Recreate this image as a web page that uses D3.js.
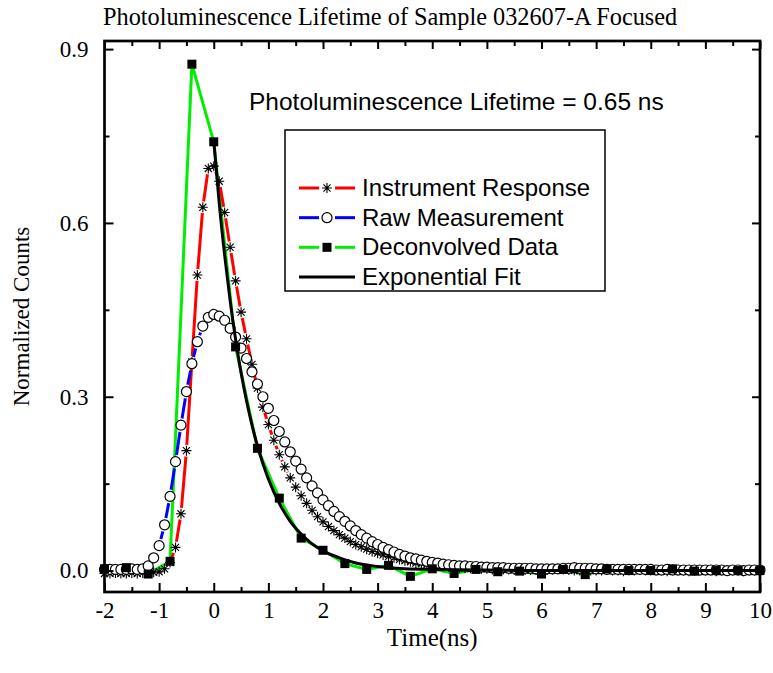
<!DOCTYPE html>
<html>
<head>
<meta charset="utf-8">
<script src="https://cdn.jsdelivr.net/npm/d3@7"></script>
<style>
body { margin: 0; background: #fff; }
</style>
</head>
<body>
<script>
// time grid of the two measured traces (0.1 ns step)
var timeStart = -2, timeStep = 0.1;
var traceTime = d3.range(0, 121).map(function(i){ return +(timeStart + i * timeStep).toFixed(1); });

var instrumentResponse = [
  -0.005, -0.005, -0.004, -0.005, -0.005, -0.004, -0.005, -0.004, -0.004, -0.003,
  -0.002, 0.003, 0.014, 0.040, 0.098, 0.207, 0.360, 0.510, 0.627, 0.694,
  0.698, 0.672, 0.618, 0.558, 0.500, 0.446, 0.400, 0.356, 0.315, 0.282,
  0.252, 0.225, 0.200, 0.179, 0.160, 0.144, 0.129, 0.116, 0.104, 0.093,
  0.084, 0.076, 0.069, 0.062, 0.056, 0.050, 0.045, 0.041, 0.037, 0.033,
  0.030, 0.027, 0.024, 0.022, 0.019, 0.017, 0.015, 0.013, 0.012, 0.010,
  0.009, 0.008, 0.007, 0.006, 0.005, 0.005, 0.004, 0.004, 0.003, 0.003,
  0.003, 0.002, 0.002, 0.002, 0.002, 0.001, 0.002, 0.001, 0.001, 0.001,
  0.001, 0.001, 0.002, 0.003, 0.002, 0.001, 0.000, 0.000, 0.001, 0.000,
  0.000, 0.000, 0.001, 0.000, 0.000, -0.001, 0.000, 0.000, 0.001, 0.000,
  0.000, 0.000, 0.000, -0.001, 0.000, 0.000, 0.000, -0.001, 0.000, 0.000,
  0.000, 0.000, -0.001, 0.000, 0.000, 0.000, 0.000, -0.001, 0.000, 0.000,
  0.000
];

var rawMeasurement = [
  0.002, 0.002, 0.002, 0.002, 0.002, 0.003, 0.002, 0.003, 0.008, 0.022,
  0.043, 0.079, 0.128, 0.188, 0.251, 0.309, 0.357, 0.395, 0.422, 0.437,
  0.442, 0.439, 0.432, 0.418, 0.403, 0.384, 0.366, 0.343, 0.322, 0.300,
  0.280, 0.259, 0.240, 0.222, 0.205, 0.189, 0.175, 0.160, 0.146, 0.134,
  0.122, 0.112, 0.102, 0.093, 0.085, 0.077, 0.069, 0.062, 0.056, 0.050,
  0.045, 0.040, 0.036, 0.032, 0.028, 0.025, 0.022, 0.020, 0.018, 0.016,
  0.014, 0.013, 0.011, 0.010, 0.009, 0.008, 0.008, 0.007, 0.007, 0.006,
  0.006, 0.005, 0.005, 0.005, 0.004, 0.004, 0.004, 0.004, 0.004, 0.003,
  0.003, 0.003, 0.003, 0.003, 0.004, 0.004, 0.005, 0.004, 0.004, 0.004,
  0.003, 0.003, 0.002, 0.002, 0.002, 0.002, 0.002, 0.002, 0.002, 0.002,
  0.002, 0.001, 0.001, 0.002, 0.001, 0.001, 0.001, 0.001, 0.001, 0.001,
  0.001, 0.001, 0.001, 0.001, 0.000, 0.001, 0.001, 0.000, 0.001, 0.001,
  0.001
];

// deconvolved data, 0.4 ns step
var deconvTime = [-2.0, -1.6, -1.2, -0.8, -0.4, 0.0, 0.4, 0.8, 1.2, 1.6, 2.0, 2.4, 2.8, 3.2, 3.6, 4.0,
  4.4, 4.8, 5.2, 5.6, 6.0, 6.4, 6.8, 7.2, 7.6, 8.0, 8.4, 8.8, 9.2, 9.6, 10.0];
var deconvolved = [0.003, 0.005, -0.006, 0.016, 0.874, 0.740, 0.386, 0.211, 0.125, 0.056, 0.035, 0.012, 0.002, 0.009, -0.010, 0.003,
  -0.005, 0.002, -0.002, -0.001, -0.006, 0.002, -0.007, 0.003, 0.000, 0.000, 0.003, -0.001, 0.000, 0.000, 0.000];

// exponential fit curve
var fitTime = [0, 0.1, 0.2, 0.3, 0.4, 0.5, 0.6, 0.7, 0.8, 1.0, 1.2, 1.4, 1.6, 1.8, 2.0, 2.3, 2.6, 3.0, 3.5, 4.0, 5.0, 6.0, 8.0, 10.0];
var fitValue = [0.742, 0.634, 0.544, 0.466, 0.399, 0.342, 0.293, 0.251, 0.215, 0.158, 0.116, 0.085, 0.063, 0.046, 0.034, 0.022,
  0.013, 0.007, 0.003, 0.002, 0.001, 0.000, 0.000, 0.000];

var xMajor = [-2, -1, 0, 1, 2, 3, 4, 5, 6, 7, 8, 9, 10];
var xMinor = [-1.5, -0.5, 0.5, 1.5, 2.5, 3.5, 4.5, 5.5, 6.5, 7.5, 8.5, 9.5];
var yMajor = [0.0, 0.3, 0.6, 0.9];
var yMinor = [0.15, 0.45, 0.75];

var legendNames = ["Instrument Response", "Raw Measurement", "Deconvolved Data", "Exponential Fit"];

var width = 773, height = 673;
var pLeft = 104.5, pRight = 760, pTop = 41, pBottom = 592;

var svg = d3.select("body").append("svg")
    .attr("width", width)
    .attr("height", height);

var x = d3.scaleLinear().domain([-2, 10]).range([pLeft, pRight]);
var y = d3.scaleLinear().domain([-0.037, 0.914]).range([pBottom, pTop]);

var serif = "'Liberation Serif', 'Times New Roman', serif";
var sans = "'Liberation Sans', Arial, sans-serif";

function asteriskPath(r) {
  var d = r * 0.7071;
  return "M0," + (-r) + "V" + r + "M" + (-r) + ",0H" + r +
    "M" + (-d) + "," + (-d) + "L" + d + "," + d + "M" + (-d) + "," + d + "L" + d + "," + (-d);
}

// mask that cuts the line around every symbol, as Origin does
function gapMask(id, xs, ys, r) {
  var m = svg.append("defs").append("mask").attr("id", id)
      .attr("maskUnits", "userSpaceOnUse")
      .attr("x", 0).attr("y", 0).attr("width", width).attr("height", height);
  m.append("rect").attr("width", width).attr("height", height).attr("fill", "#fff");
  m.selectAll("circle").data(xs).enter().append("circle")
      .attr("cx", function(d){ return x(d); })
      .attr("cy", function(d, i){ return y(ys[i]); })
      .attr("r", r).attr("fill", "#000");
}

var line = d3.line()
    .x(function(d){ return x(d[0]); })
    .y(function(d){ return y(d[1]); });

var plot = svg.append("g");

// deconvolved line (under the others)
plot.append("path")
    .datum(d3.zip(deconvTime, deconvolved))
    .attr("d", line)
    .attr("fill", "none").attr("stroke", "#00ee00").attr("stroke-width", 3);

// instrument response
gapMask("gapRed", traceTime, instrumentResponse, 6);
plot.append("path")
    .datum(d3.zip(traceTime, instrumentResponse))
    .attr("d", line)
    .attr("mask", "url(#gapRed)")
    .attr("fill", "none").attr("stroke", "#ff0000").attr("stroke-width", 3);
plot.selectAll(".star").data(traceTime).enter().append("path")
    .attr("class", "star")
    .attr("transform", function(d, i){ return "translate(" + x(d) + "," + y(instrumentResponse[i]) + ")"; })
    .attr("d", asteriskPath(5))
    .attr("fill", "none").attr("stroke", "#000").attr("stroke-width", 1.1);

// raw measurement
gapMask("gapBlue", traceTime, rawMeasurement, 7);
plot.append("path")
    .datum(d3.zip(traceTime, rawMeasurement))
    .attr("d", line)
    .attr("mask", "url(#gapBlue)")
    .attr("fill", "none").attr("stroke", "#0000ff").attr("stroke-width", 3);
plot.selectAll(".ring").data(traceTime).enter().append("circle")
    .attr("class", "ring")
    .attr("cx", function(d){ return x(d); })
    .attr("cy", function(d, i){ return y(rawMeasurement[i]); })
    .attr("r", 5)
    .attr("fill", "#fff").attr("stroke", "#000").attr("stroke-width", 1.2);

// deconvolved squares
plot.selectAll(".sq").data(deconvTime).enter().append("rect")
    .attr("class", "sq")
    .attr("x", function(d){ return x(d) - 4.5; })
    .attr("y", function(d, i){ return y(deconvolved[i]) - 4.5; })
    .attr("width", 9).attr("height", 9)
    .attr("fill", "#000");

// exponential fit
plot.append("path")
    .datum(d3.zip(fitTime, fitValue))
    .attr("d", d3.line().x(function(d){ return x(d[0]); }).y(function(d){ return y(d[1]); }).curve(d3.curveMonotoneX))
    .attr("fill", "none").attr("stroke", "#000").attr("stroke-width", 3);

// axes with inward ticks
function styleAxis(g) {
  g.select(".domain").remove();
  g.selectAll(".tick line").attr("stroke", "#000").attr("stroke-width", 2);
  g.selectAll(".tick text").attr("font-family", serif).attr("font-size", 23).attr("fill", "#000");
}

svg.append("g").attr("transform", "translate(0," + pBottom + ")")
    .call(d3.axisBottom(x).tickValues(xMajor).tickSize(-9).tickPadding(10).tickFormat(function(d){ return String(d); }))
    .call(styleAxis);
svg.append("g").attr("transform", "translate(0," + pBottom + ")")
    .call(d3.axisBottom(x).tickValues(xMinor).tickSize(-5).tickFormat(""))
    .call(styleAxis);
svg.append("g").attr("transform", "translate(0," + pTop + ")")
    .call(d3.axisTop(x).tickValues(xMajor).tickSize(-8).tickFormat(""))
    .call(styleAxis);
svg.append("g").attr("transform", "translate(0," + pTop + ")")
    .call(d3.axisTop(x).tickValues(xMinor).tickSize(-5).tickFormat(""))
    .call(styleAxis);
svg.append("g").attr("transform", "translate(" + pLeft + ",0)")
    .call(d3.axisLeft(y).tickValues(yMajor).tickSize(-9).tickPadding(16).tickFormat(d3.format(".1f")))
    .call(styleAxis);
svg.append("g").attr("transform", "translate(" + pLeft + ",0)")
    .call(d3.axisLeft(y).tickValues(yMinor).tickSize(-5).tickFormat(""))
    .call(styleAxis);
svg.append("g").attr("transform", "translate(" + pRight + ",0)")
    .call(d3.axisRight(y).tickValues(yMajor).tickSize(-8).tickFormat(""))
    .call(styleAxis);
svg.append("g").attr("transform", "translate(" + pRight + ",0)")
    .call(d3.axisRight(y).tickValues(yMinor).tickSize(-5).tickFormat(""))
    .call(styleAxis);

svg.append("rect")
    .attr("x", pLeft).attr("y", pTop)
    .attr("width", pRight - pLeft).attr("height", pBottom - pTop)
    .attr("fill", "none").attr("stroke", "#000").attr("stroke-width", 2.7);

// texts
svg.append("text")
    .attr("x", 103).attr("y", 25)
    .attr("font-family", serif).attr("font-size", 24.3)
    .text("Photoluminescence Lifetime of Sample 032607-A Focused");

svg.append("text")
    .attr("x", 249).attr("y", 110)
    .attr("font-family", sans).attr("font-size", 24.5)
    .text("Photoluminescence Lifetime = 0.65 ns");

svg.append("text")
    .attr("x", (pLeft + pRight) / 2).attr("y", 646)
    .attr("text-anchor", "middle")
    .attr("font-family", serif).attr("font-size", 25)
    .text("Time(ns)");

svg.append("text")
    .attr("transform", "translate(29," + (pTop + pBottom) / 2 + ") rotate(-90)")
    .attr("text-anchor", "middle")
    .attr("font-family", serif).attr("font-size", 23)
    .text("Normalized Counts");

// legend
var legend = svg.append("g");
legend.append("rect")
    .attr("x", 285).attr("y", 130).attr("width", 320).attr("height", 161)
    .attr("fill", "#fff").attr("stroke", "#000").attr("stroke-width", 1.5);

var legendColors = ["#ff0000", "#0000ff", "#00ee00", "#000"];
var rowY = d3.scalePoint().domain(legendNames).range([188, 277]);

legendNames.forEach(function(name, i) {
  var cy = rowY(name);
  var row = legend.append("g");
  if (i < 3) {
    row.append("line").attr("x1", 299).attr("x2", 319).attr("y1", cy).attr("y2", cy)
        .attr("stroke", legendColors[i]).attr("stroke-width", 3);
    row.append("line").attr("x1", 335).attr("x2", 355).attr("y1", cy).attr("y2", cy)
        .attr("stroke", legendColors[i]).attr("stroke-width", 3);
  } else {
    row.append("line").attr("x1", 299).attr("x2", 355).attr("y1", cy).attr("y2", cy)
        .attr("stroke", legendColors[i]).attr("stroke-width", 3);
  }
  if (i == 0) {
    row.append("path").attr("transform", "translate(327," + cy + ")")
        .attr("d", asteriskPath(5)).attr("fill", "none").attr("stroke", "#000").attr("stroke-width", 1.1);
  } else if (i == 1) {
    row.append("circle").attr("cx", 327).attr("cy", cy).attr("r", 5)
        .attr("fill", "#fff").attr("stroke", "#000").attr("stroke-width", 1.2);
  } else if (i == 2) {
    row.append("rect").attr("x", 322.5).attr("y", cy - 4.5).attr("width", 9).attr("height", 9).attr("fill", "#000");
  }
  row.append("text")
      .attr("x", 362).attr("y", cy + 8)
      .attr("font-family", sans).attr("font-size", 24)
      .text(name);
});
</script>
</body>
</html>
